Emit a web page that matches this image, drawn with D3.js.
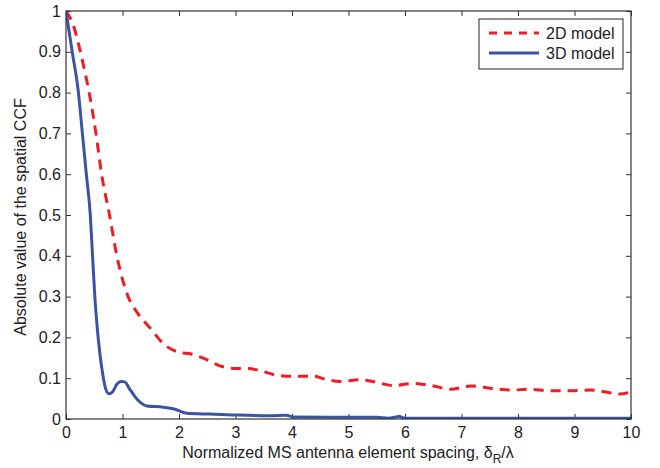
<!DOCTYPE html>
<html><head><meta charset="utf-8">
<script src="https://cdn.jsdelivr.net/npm/d3@7"></script>
<style>body{margin:0;background:#fff}svg{font-family:"Liberation Sans",Arial,sans-serif}</style>
</head><body><svg id="c" width="660" height="468"></svg>
<script>
const xTicks=[0,1,2,3,4,5,6,7,8,9,10];
const yTicks=[0,0.1,0.2,0.3,0.4,0.5,0.6,0.7,0.8,0.9,1];
const seriesNames=["2D model","3D model"];
const x2D=[0,0.14,0.22,0.32,0.41,0.53,0.63,0.77,0.9,1.1,1.27,1.52,1.72,2.02,2.2,2.43,2.78,3.0,3.2,3.43,3.7,3.9,4.37,4.6,4.85,5.2,5.43,5.79,6.14,6.5,6.8,7.18,7.53,7.89,8.2,8.57,8.92,9.27,9.6,9.8,10];
const y2D=[1,0.961,0.92,0.86,0.8,0.7,0.6,0.5,0.4,0.3,0.259,0.218,0.185,0.163,0.16,0.149,0.128,0.124,0.124,0.119,0.108,0.105,0.105,0.097,0.092,0.096,0.092,0.082,0.087,0.081,0.073,0.081,0.075,0.071,0.073,0.069,0.069,0.071,0.065,0.061,0.067];
const x3D=[0,0.11,0.22,0.29,0.36,0.43,0.47,0.51,0.555,0.6,0.65,0.7,0.76,0.82,0.9,0.97,1.04,1.12,1.22,1.32,1.43,1.72,1.93,2.14,2.55,2.96,3.61,3.9,4.02,5.5,5.7,5.9,6.0,10];
const y3D=[1,0.9,0.8,0.7,0.6,0.5,0.4,0.3,0.22,0.16,0.11,0.075,0.062,0.066,0.085,0.092,0.091,0.075,0.055,0.04,0.032,0.029,0.024,0.014,0.012,0.010,0.008,0.009,0.005,0.004,0.002,0.006,0.002,0.002];

const svg=d3.select("#c");
const L=66,R=631,T=11,B=419;
const xs=d3.scaleLinear().domain([0,10]).range([L,R]);
const ys=d3.scaleLinear().domain([0,1]).range([B,T]);
const tc="#222", fs="16px";
const gx=svg.append("g").attr("transform",`translate(0,${B})`).call(d3.axisBottom(xs).tickValues(xTicks).tickSizeInner(-5).tickSizeOuter(0).tickPadding(8).tickFormat(d3.format("d")));
const gxt=svg.append("g").attr("transform",`translate(0,${T})`).call(d3.axisTop(xs).tickValues(xTicks).tickSizeInner(-5).tickSizeOuter(0).tickFormat(""));
const gy=svg.append("g").attr("transform",`translate(${L},0)`).call(d3.axisLeft(ys).tickValues(yTicks).tickSizeInner(-5).tickSizeOuter(0).tickPadding(5).tickFormat(d=>d===0?"0":d===1?"1":d3.format(".1f")(d)));
const gyr=svg.append("g").attr("transform",`translate(${R},0)`).call(d3.axisRight(ys).tickValues(yTicks).tickSizeInner(-5).tickSizeOuter(0).tickFormat(""));
[gx,gxt,gy,gyr].forEach(g=>{g.select(".domain").remove();g.selectAll("line").attr("stroke","#333");g.selectAll("text").attr("fill",tc).style("font-size",fs).style("font-family","Liberation Sans, Arial, sans-serif");});
gx.selectAll("text").attr("dy","0.71em");
const line=d3.line().x(d=>xs(d[0])).y(d=>ys(d[1])).curve(d3.curveMonotoneX);
svg.append("clipPath").attr("id","cp").append("rect").attr("x",L).attr("y",T-2).attr("width",R-L).attr("height",B-T+2);
svg.append("path").datum(x2D.map((v,i)=>[v,y2D[i]])).attr("d",line).attr("fill","none").attr("stroke","#ee1c25").attr("stroke-width",3).attr("stroke-dasharray","10,7").attr("clip-path","url(#cp)");
svg.append("path").datum(x3D.map((v,i)=>[v,y3D[i]])).attr("d",line).attr("fill","none").attr("stroke","#3a54a4").attr("stroke-width",3).attr("clip-path","url(#cp)");
svg.append("rect").attr("x",L).attr("y",T).attr("width",R-L).attr("height",B-T).attr("fill","none").attr("stroke","#333").attr("stroke-width",1.2);
const lg=svg.append("g");
lg.append("rect").attr("x",479).attr("y",19).attr("width",144).attr("height",50).attr("fill","#fff").attr("stroke","#222").attr("stroke-width",1);
const lc=["#ee1c25","#3a54a4"],ld=["8,7",null];
seriesNames.forEach((n,i)=>{
  const yy=33+i*20;
  const l=lg.append("line").attr("x1",489).attr("x2",539).attr("y1",yy).attr("y2",yy).attr("stroke",lc[i]).attr("stroke-width",3);
  if(ld[i])l.attr("stroke-dasharray",ld[i]);
  lg.append("text").attr("x",546).attr("y",yy+6).text(n).attr("fill",tc).style("font-size",fs);
});
const xl=svg.append("text").attr("x",348).attr("y",458).attr("text-anchor","middle").attr("fill",tc).style("font-size",fs);
xl.append("tspan").text("Normalized MS antenna element spacing, δ");
xl.append("tspan").text("R").attr("dy",5).style("font-size","12px");
xl.append("tspan").text("/λ").attr("dy",-5);
svg.append("text").attr("transform","translate(26,217) rotate(-90)").attr("text-anchor","middle").attr("fill",tc).style("font-size",fs).text("Absolute value of the spatial CCF");
</script></body></html>
